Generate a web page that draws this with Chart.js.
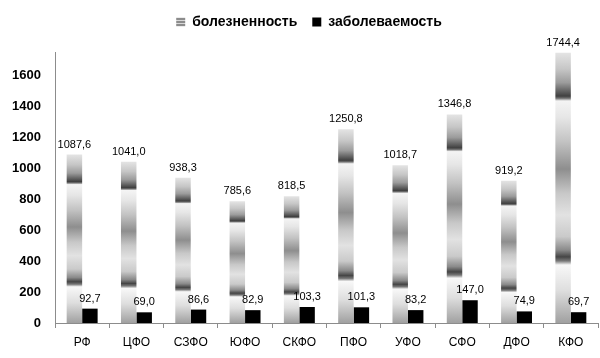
<!DOCTYPE html>
<html>
<head>
<meta charset="utf-8">
<script src="https://cdn.jsdelivr.net/npm/chart.js@4.4.1/dist/chart.umd.min.js"></script>
<style>
  html, body { margin: 0; padding: 0; background: #fff; }
  #wrap { width: 600px; height: 358px; position: relative; }
</style>
</head>
<body>
<div id="wrap"><canvas id="grafico"></canvas></div>
<script>
// данные по округам
const okruga = ['РФ', 'ЦФО', 'СЗФО', 'ЮФО', 'СКФО', 'ПФО', 'УФО', 'СФО', 'ДФО', 'КФО'];
const bolezn = [1087.6, 1041.0, 938.3, 785.6, 818.5, 1250.8, 1018.7, 1346.8, 919.2, 1744.4];
const zabol = [92.7, 69.0, 86.6, 82.9, 103.3, 101.3, 83.2, 147.0, 74.9, 69.7];
const yTicks = [0, 200, 400, 600, 800, 1000, 1200, 1400, 1600];

const fmt = v => v.toFixed(1).replace('.', ',');

// "хромовая" заливка столбца, растянутая на высоту каждого столбца
const chromStops = [
  [0.00, '#e4e4e4'], [0.06, '#c6c6c6'], [0.11, '#9c9c9c'], [0.145, '#5c5c5c'],
  [0.16, '#404040'], [0.168, '#707070'], [0.178, '#f4f4f4'], [0.24, '#e6e6e6'],
  [0.33, '#c2c2c2'], [0.43, '#8e8e8e'], [0.52, '#c8c8c8'], [0.60, '#e2e2e2'],
  [0.68, '#cacaca'], [0.73, '#8a8a8a'], [0.755, '#454545'], [0.77, '#777777'],
  [0.785, '#f8f8f8'], [0.88, '#dedede'], [1.00, '#a0a0a0']
];

function chromFill(c) {
  const chart = c.chart;
  const y = chart.scales.y;
  if (!y || c.type !== 'data') return '#b0b0b0';
  const top = y.getPixelForValue(c.raw);
  const base = y.getPixelForValue(0);
  if (!isFinite(top) || !isFinite(base) || base - top < 1) return '#b0b0b0';
  const g = chart.ctx.createLinearGradient(0, top, 0, base);
  chromStops.forEach(s => g.addColorStop(s[0], s[1]));
  return g;
}

// полосатый значок для легенды
function stripePattern() {
  const cv = document.createElement('canvas');
  cv.width = 4; cv.height = 3;
  const x = cv.getContext('2d');
  x.fillStyle = '#8c8c8c'; x.fillRect(0, 0, 4, 2);
  x.fillStyle = '#d8d8d8'; x.fillRect(0, 2, 4, 1);
  return document.getElementById('grafico').getContext('2d').createPattern(cv, 'repeat');
}

// подписи значений над столбцами
const podpisi = {
  id: 'podpisi',
  afterDatasetsDraw(chart) {
    const ctx = chart.ctx;
    ctx.save();
    ctx.font = '11px "Liberation Sans", Arial, sans-serif';
    ctx.fillStyle = '#000';
    ctx.textAlign = 'center';
    ctx.textBaseline = 'alphabetic';
    chart.data.datasets.forEach((ds, i) => {
      chart.getDatasetMeta(i).data.forEach((bar, j) => {
        ctx.fillText(fmt(ds.data[j]), bar.x, bar.y - 7);
      });
    });
    ctx.restore();
  }
};

// высота и сдвиг легенды
const legendaFix = {
  id: 'legendaFix',
  beforeInit(chart) {
    const fit = chart.legend.fit;
    chart.legend.fit = function() {
      fit.call(this);
      this.height = 52;
    };
  },
  afterLayout(chart) {
    chart.legend.left += 10;
    chart.legend.right += 10;
  }
};

const ctx = document.getElementById('grafico').getContext('2d');
new Chart(ctx, {
  type: 'bar',
  data: {
    labels: okruga,
    datasets: [{
      label: 'болезненность',
      data: bolezn,
      backgroundColor: chromFill,
      borderWidth: 0
    }, {
      label: 'заболеваемость',
      data: zabol,
      backgroundColor: '#000',
      borderWidth: 0
    }]
  },
  options: {
    responsive: true,
    maintainAspectRatio: false,
    devicePixelRatio: 1,
    animation: false,
    datasets: { bar: { barPercentage: 1, categoryPercentage: 0.57 } },
    layout: { padding: { left: 0, right: 2, top: 0, bottom: 0 } },
    plugins: {
      tooltip: { enabled: false },
      legend: {
        position: 'top',
        labels: {
          boxWidth: 9,
          boxHeight: 9,
          padding: 15,
          color: '#000',
          font: { family: '"Liberation Sans", Arial, sans-serif', size: 14, weight: 'bold' },
          generateLabels: function(chart) {
            return chart.data.datasets.map((ds, i) => ({
              text: ds.label,
              fillStyle: i === 0 ? stripePattern() : '#000',
              strokeStyle: 'rgba(0,0,0,0)',
              lineWidth: 0,
              hidden: false,
              datasetIndex: i
            }));
          }
        }
      }
    },
    scales: {
      x: {
        offset: true,
        grid: { display: true, drawOnChartArea: false, drawTicks: true, tickLength: 5, color: '#8c8c8c' },
        border: { display: true, color: '#8c8c8c', width: 1 },
        ticks: {
          color: '#000',
          padding: 7,
          maxRotation: 0,
          font: { family: '"Liberation Sans", Arial, sans-serif', size: 12 }
        },
        afterFit: s => { s.height = 35; }
      },
      y: {
        min: 0,
        max: 1750,
        grid: { display: false, drawTicks: false },
        border: { display: true, color: '#8c8c8c', width: 1 },
        ticks: {
          stepSize: 200,
          padding: 14,
          color: '#000',
          font: { family: '"Liberation Sans", Arial, sans-serif', size: 13, weight: 'bold' },
          callback: v => yTicks.includes(v) ? String(v) : ''
        },
        afterFit: s => { s.width = 55; }
      }
    }
  },
  plugins: [podpisi, legendaFix]
});
</script>
</body>
</html>
